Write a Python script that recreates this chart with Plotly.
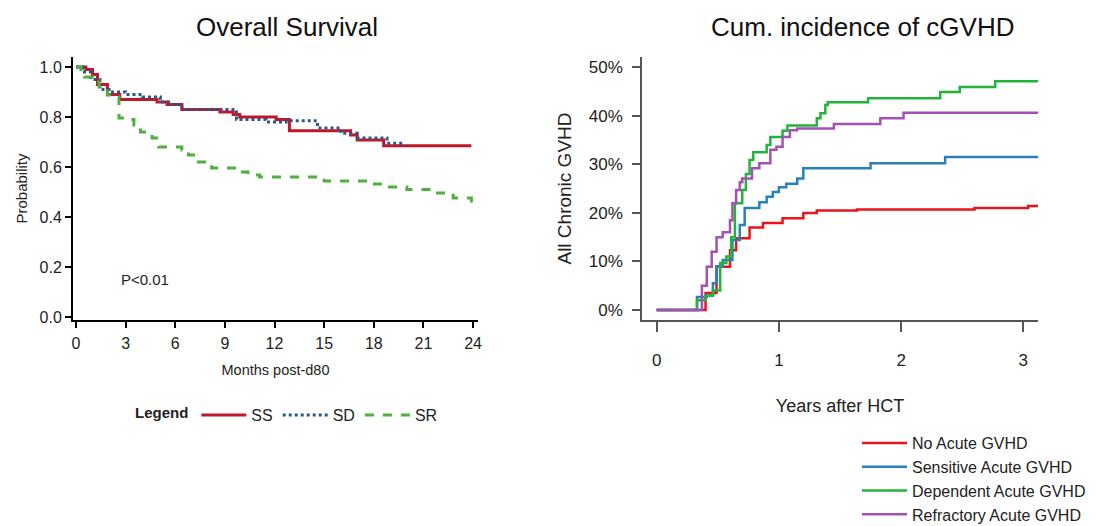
import plotly.graph_objects as go

W, H = 1117, 526

# ---------- Overall Survival (months post-d80) ----------
ss_t = [0, 0.6, 1.0, 1.3, 1.9, 2.65, 4.9, 5.5, 6.4, 8.7, 9.5, 9.9, 12.1, 12.9, 16.6, 17.0, 18.6, 23.9]
ss_p = [1.0, 0.99, 0.97, 0.93, 0.89, 0.87, 0.86, 0.85, 0.83, 0.82, 0.81, 0.80, 0.79, 0.745, 0.728, 0.708, 0.685, 0.685]

sd_t = [0, 0.4, 0.9, 1.45, 2.0, 3.0, 4.0, 5.1, 5.6, 6.4, 9.7, 11.5, 12.7, 14.6, 16.0, 17.0, 18.8, 19.8]
sd_p = [1.0, 0.98, 0.95, 0.91, 0.90, 0.89, 0.88, 0.86, 0.85, 0.83, 0.79, 0.78, 0.785, 0.756, 0.735, 0.716, 0.695, 0.685]

sr_t = [0, 0.3, 0.5, 1.0, 1.4, 1.9, 2.3, 2.6, 3.1, 3.5, 3.9, 4.6, 5.0, 6.4, 6.8, 7.4, 8.2, 9.9, 10.4, 11.1, 15.0, 17.6, 18.4, 20.0, 21.6, 22.8, 23.9]
sr_p = [1.0, 0.97, 0.96, 0.94, 0.92, 0.888, 0.88, 0.796, 0.79, 0.768, 0.74, 0.716, 0.68, 0.668, 0.648, 0.62, 0.596, 0.58, 0.568, 0.56, 0.544, 0.532, 0.52, 0.51, 0.496, 0.476, 0.456]

# ---------- Cumulative incidence of cGVHD (years after HCT) ----------
no_t = [0, 0.33, 0.40, 0.49, 0.60, 0.65, 0.76, 0.87, 1.03, 1.20, 1.31, 1.64, 2.60, 3.04, 3.12]
no_y = [0, 0, 0.035, 0.089, 0.123, 0.148, 0.170, 0.179, 0.189, 0.200, 0.205, 0.207, 0.210, 0.214, 0.214]

sens_t = [0, 0.33, 0.41, 0.46, 0.49, 0.54, 0.62, 0.68, 0.72, 0.84, 0.90, 0.95, 1.00, 1.06, 1.15, 1.20, 1.75, 2.36, 3.12]
sens_y = [0, 0.027, 0.03, 0.055, 0.09, 0.103, 0.144, 0.175, 0.21, 0.222, 0.233, 0.243, 0.253, 0.26, 0.271, 0.292, 0.302, 0.315, 0.315]

dep_t = [0, 0.33, 0.40, 0.46, 0.52, 0.57, 0.61, 0.64, 0.70, 0.73, 0.76, 0.79, 0.90, 0.93, 1.03, 1.07, 1.31, 1.34, 1.38, 1.40, 1.73, 2.32, 2.48, 2.77, 3.12]
dep_y = [0, 0.02, 0.03, 0.04, 0.097, 0.11, 0.15, 0.22, 0.247, 0.28, 0.309, 0.325, 0.34, 0.356, 0.369, 0.38, 0.395, 0.405, 0.422, 0.428, 0.436, 0.449, 0.459, 0.471, 0.471]

ref_t = [0, 0.37, 0.41, 0.45, 0.49, 0.54, 0.60, 0.62, 0.65, 0.68, 0.70, 0.78, 0.84, 0.93, 0.98, 1.03, 1.09, 1.15, 1.45, 1.83, 2.02, 3.12]
ref_y = [0, 0.05, 0.089, 0.12, 0.15, 0.16, 0.185, 0.22, 0.247, 0.263, 0.271, 0.292, 0.302, 0.33, 0.336, 0.356, 0.37, 0.374, 0.383, 0.395, 0.406, 0.406]

os_x_ticks = [0, 3, 6, 9, 12, 15, 18, 21, 24]
os_y_ticks = [0.0, 0.2, 0.4, 0.6, 0.8, 1.0]
ci_x_ticks = [0, 1, 2, 3]
ci_y_ticks = [0, 0.1, 0.2, 0.3, 0.4, 0.5]

fig = go.Figure()

fig.add_trace(go.Scatter(x=ss_t, y=ss_p, mode="lines", line=dict(shape="hv", color="#c0162c", width=3),
                         name="SS", legend="legend"))
fig.add_trace(go.Scatter(x=sd_t, y=sd_p, mode="lines", line=dict(shape="hv", color="#2f5689", width=3, dash="dot"),
                         name="SD", legend="legend"))
fig.add_trace(go.Scatter(x=sr_t, y=sr_p, mode="lines", line=dict(shape="hv", color="#4fb040", width=3, dash="dash"),
                         name="SR", legend="legend"))

for t, y, c, n in [(no_t, no_y, "#e8141c", "No Acute GVHD"),
                   (sens_t, sens_y, "#2a80b9", "Sensitive Acute GVHD"),
                   (dep_t, dep_y, "#22b43a", "Dependent Acute GVHD"),
                   (ref_t, ref_y, "#a550b4", "Refractory Acute GVHD")]:
    fig.add_trace(go.Scatter(x=t, y=y, mode="lines", line=dict(shape="hv", color=c, width=2.5),
                             name=n, xaxis="x2", yaxis="y2", legend="legend2"))

base_font = "Liberation Sans, Arial, sans-serif"

def ydom(top, bottom):
    return [1 - bottom / H, 1 - top / H]

fig.update_layout(
    width=W, height=H,
    margin=dict(l=0, r=0, t=0, b=0, autoexpand=False),
    paper_bgcolor="white", plot_bgcolor="white",
    font=dict(family=base_font, color="#222"),
    xaxis=dict(domain=[73 / W, 478 / W], range=[-0.18, 24.3], tickvals=os_x_ticks,
               showline=True, linecolor="black", linewidth=2, ticks="outside", tickcolor="black",
               ticklen=6, tickwidth=2, showgrid=False, zeroline=False, ticklabelstandoff=2,
               tickfont=dict(size=16, color="#222"),
               title=dict(text="Months post-d80", font=dict(size=14.5, color="#222"), standoff=14)),
    yaxis=dict(domain=ydom(57, 320), range=[-0.012, 1.04], tickvals=os_y_ticks, tickformat=".1f",
               showline=True, linecolor="black", linewidth=2, ticks="outside", tickcolor="black",
               ticklen=6, tickwidth=2, showgrid=False, zeroline=False,
               tickfont=dict(size=16, color="#222"),
               title=dict(text="Probability", font=dict(size=15, color="#222"), standoff=8)),
    xaxis2=dict(domain=[642 / W, 1038 / W], range=[-0.12, 3.12], tickvals=ci_x_ticks,
                showline=True, linecolor="#555", linewidth=1.5, ticks="outside", tickcolor="#555",
                ticklen=10, tickwidth=1.5, showgrid=False, zeroline=False, anchor="y2",
                ticklabelstandoff=14,
                tickfont=dict(size=17, color="#222"),
                title=dict(text="Years after HCT", font=dict(size=18, color="#222"), standoff=30)),
    yaxis2=dict(domain=ydom(57, 320), range=[-0.0206, 0.521], tickvals=ci_y_ticks, tickformat=".0%",
                showline=True, linecolor="#555", linewidth=1.5, ticks="outside", tickcolor="#555",
                ticklen=8, tickwidth=1.5, showgrid=False, zeroline=False, anchor="x2",
                ticklabelstandoff=6,
                tickfont=dict(size=17, color="#222"),
                title=dict(text="All Chronic GVHD", font=dict(size=19, color="#222"), standoff=12)),
    legend=dict(orientation="h", x=133 / W, y=1 - 398 / H, xanchor="left", yanchor="top",
                title=dict(text="<b>Legend</b>", side="left", font=dict(size=15, color="#222")),
                font=dict(size=16, color="#222"), bgcolor="rgba(0,0,0,0)", itemwidth=45),
    legend2=dict(orientation="v", x=857 / W, y=1 - 426 / H, xanchor="left", yanchor="top",
                 font=dict(size=16, color="#222"), bgcolor="rgba(0,0,0,0)", tracegroupgap=0,
                 itemwidth=45),
    annotations=[
        dict(text="Overall Survival", x=287 / W, y=1 - 27 / H, xref="paper", yref="paper",
             showarrow=False, font=dict(size=26, color="#111"), xanchor="center", yanchor="middle"),
        dict(text="Cum. incidence of cGVHD", x=863 / W, y=1 - 27 / H, xref="paper", yref="paper",
             showarrow=False, font=dict(size=26, color="#111"), xanchor="center", yanchor="middle"),
        dict(text="P<0.01", x=2.6, y=0.15, xref="x", yref="y", showarrow=False,
             font=dict(size=15, color="#222"), xanchor="left", yanchor="middle"),
    ],
)

fig.write_html("out.html")
